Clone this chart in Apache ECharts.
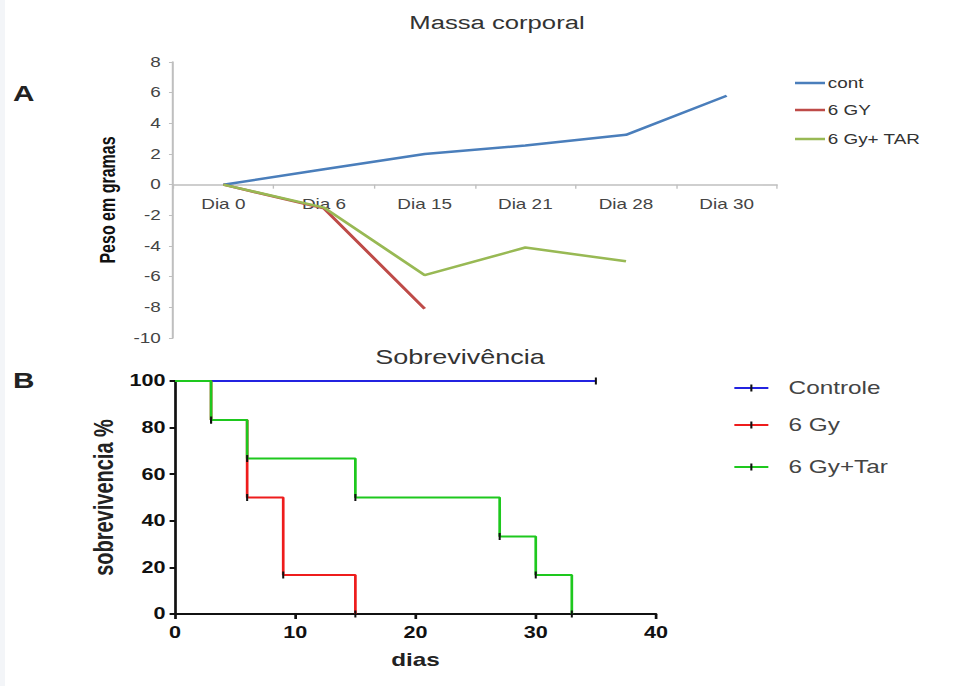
<!DOCTYPE html>
<html>
<head>
<meta charset="utf-8">
<script src="https://cdn.jsdelivr.net/npm/echarts@6/dist/echarts.min.js"></script>
<style>
html,body{margin:0;padding:0;background:#fff;overflow:hidden;width:967px;height:686px;}
#chart{height:686px;transform-origin:0 0;}
</style>
</head>
<body>
<div id="chart"></div>
<script>
// Panel A: body mass
const categories = ['Dia 0', 'Dia 6', 'Dia 15', 'Dia 21', 'Dia 28', 'Dia 30'];
const massCont = [0, 1.0, 2.0, 2.55, 3.25, 5.8];
const mass6Gy = [0, -1.55, -8.1, null, null, null];
const mass6GyTar = [0, -1.5, -5.9, -4.1, -5.0, null];
const massTicks = { min: -10, max: 8, interval: 2 };

// Panel B: survival (day, %)
const survControle = [[0, 100], [35, 100]];
const surv6Gy = [[0, 100], [3, 83.3], [6, 50], [9, 16.7], [15, 0]];
const surv6GyTar = [[0, 100], [3, 83.3], [6, 66.7], [15, 50], [27, 33.3], [30, 16.7], [33, 0]];
const survTicksY = { min: 0, max: 100, interval: 20 };
const survTicksX = { min: 0, max: 40, interval: 10 };

// The reference is horizontally stretched; draw in a narrower space and stretch.
const K = 1.35;
const sx = v => v / K;
const el = document.getElementById('chart');
el.style.width = (967 / K) + 'px';
el.style.transform = 'scaleX(' + K + ')';

const FONT = '"Liberation Sans", Arial, sans-serif';
const grayAxis = '#bfbfbf';
// thin vertical tick inside a square box (so it stays thin in the legend too)
const tickMark = 'path://M0,0 L0,0 Z M7,7 L7,7 Z M2.75,0 L4.25,0 L4.25,7 L2.75,7 Z';

function steps(arr) {
  return arr.map((p, i) => i === 0 ? { value: p, symbol: 'none' } : p);
}

function legendA(name, color, centerY) {
  return {
    left: sx(795), top: centerY - 8, orient: 'vertical', padding: 0,
    itemWidth: sx(30), itemHeight: 2.5, itemGap: 0,
    data: [{ name: name, icon: 'rect', itemStyle: { color: color } }],
    textStyle: { fontFamily: FONT, fontSize: 14, color: '#333', padding: [0, 0, 0, -3], lineHeight: 16 }
  };
}
function legendB(name, centerY) {
  return {
    left: sx(733), top: centerY - 10, orient: 'vertical', padding: 0,
    itemWidth: sx(34), itemHeight: 9, itemGap: 0,
    data: [name],
    textStyle: { fontFamily: FONT, fontSize: 18, color: '#444', padding: [0, 0, 0, 10], lineHeight: 20 }
  };
}

const chart = echarts.init(el, null, { renderer: 'svg' });

chart.setOption({
  backgroundColor: '#ffffff',
  animation: false,
  textStyle: { fontFamily: FONT },
  graphic: [
    { type: 'rect', left: 0, top: 0, shape: { width: sx(5), height: 686 }, style: { fill: '#f3f5f8' }, silent: true }
  ],
  title: [
    { text: 'Massa corporal', left: sx(497), top: 13, textAlign: 'center', padding: 0,
      textStyle: { fontFamily: FONT, fontSize: 19, fontWeight: 'normal', color: '#333' } },
    { text: 'A', left: sx(13), top: 82, padding: 0,
      textStyle: { fontFamily: FONT, fontSize: 22, fontWeight: 'bold', color: '#222' } },
    { text: 'Sobrevivência', left: sx(460), top: 347, textAlign: 'center', padding: 0,
      textStyle: { fontFamily: FONT, fontSize: 20, fontWeight: 'normal', color: '#333' } },
    { text: 'B', left: sx(13), top: 369, padding: 0,
      textStyle: { fontFamily: FONT, fontSize: 22, fontWeight: 'bold', color: '#222' } }
  ],
  legend: [
    legendA('cont', '#4a7ebb', 83),
    legendA('6 GY', '#be4b48', 110),
    legendA('6 Gy+ TAR', '#98b954', 139),
    legendB('Controle', 388),
    legendB('6 Gy', 425),
    legendB('6 Gy+Tar', 467)
  ],
  grid: [
    { left: sx(173), top: 62, width: sx(777 - 173), height: 276, containLabel: false },
    { left: sx(175), top: 381, width: sx(656 - 175), height: 233, containLabel: false }
  ],
  xAxis: [
    {
      gridIndex: 0, type: 'category', data: categories, boundaryGap: true, position: 'bottom',
      axisLine: { onZero: true, lineStyle: { color: grayAxis, width: 1.5 } },
      axisTick: { show: true, length: 4, lineStyle: { color: grayAxis } },
      axisLabel: { show: false },
      splitLine: { show: false }
    },
    {
      gridIndex: 1, type: 'value', min: survTicksX.min, max: survTicksX.max, interval: survTicksX.interval,
      name: 'dias', nameLocation: 'middle', nameGap: 37,
      nameTextStyle: { fontFamily: FONT, fontSize: 18, fontWeight: 'bold', color: '#222' },
      axisLine: { onZero: false, lineStyle: { color: '#111', width: 2 } },
      axisTick: { show: true, length: 5, lineStyle: { color: '#111', width: 2 } },
      axisLabel: { fontFamily: FONT, fontSize: 16, fontWeight: 'bold', color: '#111', margin: 11 },
      splitLine: { show: false }
    },
    {
      // label-only axis for panel A, placed at the zero line
      gridIndex: 0, type: 'category', data: categories, boundaryGap: true, position: 'bottom',
      offset: -(338 - 184),
      axisLine: { show: false, onZero: false },
      axisTick: { show: false },
      axisLabel: { fontFamily: FONT, fontSize: 14, color: '#444', margin: 13 },
      splitLine: { show: false }
    }
  ],
  yAxis: [
    {
      gridIndex: 0, type: 'value', min: massTicks.min, max: massTicks.max, interval: massTicks.interval,
      name: 'Peso em gramas', nameLocation: 'middle', nameGap: 30, nameRotate: 90,
      nameTextStyle: { fontFamily: FONT, fontSize: 16, fontWeight: 'bold', color: '#111' },
      axisLine: { show: true, lineStyle: { color: grayAxis, width: 1.5 } },
      axisTick: { show: true, length: 3, lineStyle: { color: grayAxis } },
      axisLabel: { fontFamily: FONT, fontSize: 14, color: '#444', margin: 9 },
      splitLine: { show: false }
    },
    {
      gridIndex: 1, type: 'value', min: survTicksY.min, max: survTicksY.max, interval: survTicksY.interval,
      name: 'sobrevivencia %', nameLocation: 'middle', nameGap: 43, nameRotate: 90,
      nameTextStyle: { fontFamily: FONT, fontSize: 20, fontWeight: 'bold', color: '#222' },
      axisLine: { show: true, lineStyle: { color: '#111', width: 2 } },
      axisTick: { show: true, length: 4, lineStyle: { color: '#111', width: 2 } },
      axisLabel: { fontFamily: FONT, fontSize: 16, fontWeight: 'bold', color: '#111', margin: 7 },
      splitLine: { show: false }
    }
  ],
  series: [
    { name: 'cont', type: 'line', xAxisIndex: 0, yAxisIndex: 0, data: massCont,
      symbol: 'none', lineStyle: { color: '#4a7ebb', width: 2.5 }, itemStyle: { color: '#4a7ebb' } },
    { name: '6 GY', type: 'line', xAxisIndex: 0, yAxisIndex: 0, data: mass6Gy,
      symbol: 'none', lineStyle: { color: '#be4b48', width: 2.5 }, itemStyle: { color: '#be4b48' } },
    { name: '6 Gy+ TAR', type: 'line', xAxisIndex: 0, yAxisIndex: 0, data: mass6GyTar,
      symbol: 'none', lineStyle: { color: '#98b954', width: 2.5 }, itemStyle: { color: '#98b954' } },

    { name: 'Controle', type: 'line', xAxisIndex: 1, yAxisIndex: 1, step: 'end', data: steps(survControle),
      symbol: tickMark, symbolSize: 7, showAllSymbol: true,
      lineStyle: { color: '#2323e0', width: 2 }, itemStyle: { color: '#111' }, z: 2 },
    { name: '6 Gy', type: 'line', xAxisIndex: 1, yAxisIndex: 1, step: 'end', data: steps(surv6Gy),
      symbol: tickMark, symbolSize: 7, showAllSymbol: true,
      lineStyle: { color: '#ee1c1c', width: 2 }, itemStyle: { color: '#111' }, z: 3 },
    { name: '6 Gy+Tar', type: 'line', xAxisIndex: 1, yAxisIndex: 1, step: 'end', data: steps(surv6GyTar),
      symbol: tickMark, symbolSize: 7, showAllSymbol: true,
      lineStyle: { color: '#1ec81e', width: 2 }, itemStyle: { color: '#111' }, z: 4 }
  ]
});
</script>
</body>
</html>
